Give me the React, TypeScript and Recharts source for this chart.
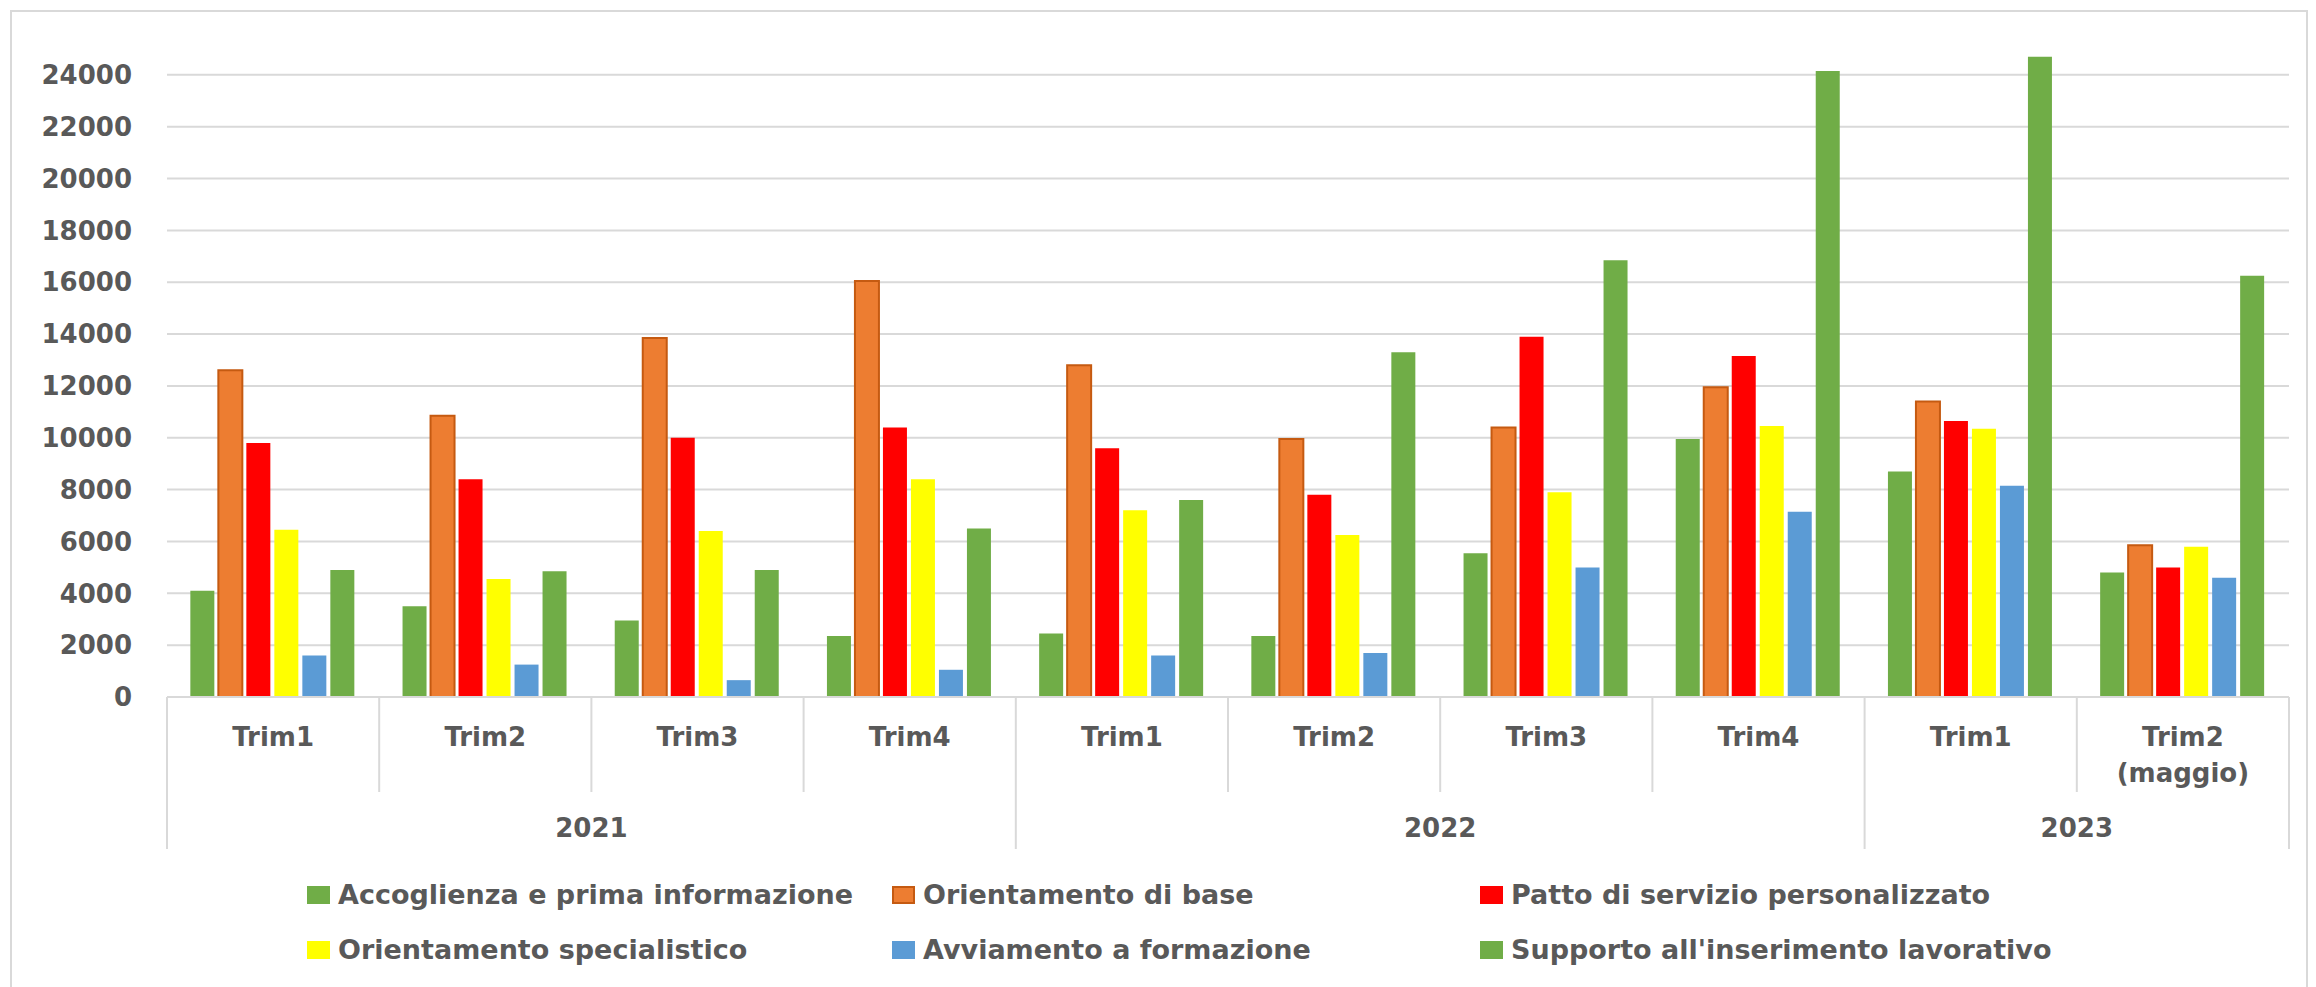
import { Bar, BarChart, CartesianGrid, XAxis, YAxis } from "recharts";

const categories = ["Trim1", "Trim2", "Trim3", "Trim4", "Trim1", "Trim2", "Trim3", "Trim4", "Trim1", "Trim2\n(maggio)"];
const years = ["2021", "2021", "2021", "2021", "2022", "2022", "2022", "2022", "2023", "2023"];

const accoglienza = [4100, 3500, 2950, 2350, 2450, 2350, 5550, 9950, 8700, 4800];
const orientamentoBase = [12600, 10850, 13850, 16050, 12800, 9950, 10400, 11950, 11400, 5850];
const pattoServizio = [9800, 8400, 10000, 10400, 9600, 7800, 13900, 13150, 10650, 5000];
const orientamentoSpec = [6450, 4550, 6400, 8400, 7200, 6250, 7900, 10450, 10350, 5800];
const avviamento = [1600, 1250, 650, 1050, 1600, 1700, 5000, 7150, 8150, 4600];
const supporto = [4900, 4850, 4900, 6500, 7600, 13300, 16850, 24150, 24700, 16250];

const yTicks = [0, 2000, 4000, 6000, 8000, 10000, 12000, 14000, 16000, 18000, 20000, 22000, 24000];

const series = [
  { key: "accoglienza", name: "Accoglienza e prima informazione", color: "#70AD47" },
  { key: "orientamentoBase", name: "Orientamento di base", color: "#ED7D31", stroke: "#C55A11" },
  { key: "pattoServizio", name: "Patto di servizio personalizzato", color: "#FF0000" },
  { key: "orientamentoSpec", name: "Orientamento specialistico", color: "#FFFF00" },
  { key: "avviamento", name: "Avviamento a formazione", color: "#5B9BD5" },
  { key: "supporto", name: "Supporto all'inserimento lavorativo", color: "#70AD47" },
];

const data = categories.map((c, i) => ({
  id: `${years[i]}-${i}`,
  accoglienza: accoglienza[i],
  orientamentoBase: orientamentoBase[i],
  pattoServizio: pattoServizio[i],
  orientamentoSpec: orientamentoSpec[i],
  avviamento: avviamento[i],
  supporto: supporto[i],
}));

const W = 2316;
const H = 987;
const PLOT_LEFT = 167;
const PLOT_RIGHT = 2289;
const PLOT_BOTTOM = 697;
const PLOT_W = PLOT_RIGHT - PLOT_LEFT;
const TEXT = "#595959";
const LINE = "#D9D9D9";
const FONT = "'DejaVu Sans', Verdana, sans-serif";

function CategoryTick(props: any) {
  const { x, payload } = props;
  const i = payload.index;
  const band = PLOT_W / categories.length;
  const left = x - band / 2;
  const lines = categories[i].split("\n");
  const yearStart = i === 0 || years[i] !== years[i - 1];
  const isLast = i === categories.length - 1;
  const yearCount = years.filter((y) => y === years[i]).length;

  return (
    <g>
      <line x1={left} x2={left} y1={PLOT_BOTTOM} y2={yearStart ? 849 : 792} stroke={LINE} strokeWidth={2} />
      {isLast && (
        <line x1={left + band} x2={left + band} y1={PLOT_BOTTOM} y2={849} stroke={LINE} strokeWidth={2} />
      )}
      <text x={x} y={737} textAnchor="middle" fill={TEXT} fontSize={26} fontWeight="bold" fontFamily={FONT}>
        {lines.map((l, k) => (
          <tspan key={k} x={x} dy={k === 0 ? "0.36em" : 36}>
            {l}
          </tspan>
        ))}
      </text>
      {yearStart && (
        <text
          x={left + (yearCount * band) / 2}
          y={828}
          dy="0.36em"
          textAnchor="middle"
          fill={TEXT}
          fontSize={26}
          fontWeight="bold"
          fontFamily={FONT}
        >
          {years[i]}
        </text>
      )}
    </g>
  );
}

export default function App() {
  return (
    <div style={{ position: "absolute", left: 0, top: 0, width: W, height: H, background: "#fff", overflow: "hidden" }}>
      <div
        style={{
          position: "absolute",
          left: 10,
          top: 10,
          width: 2298,
          height: 1000,
          border: `2px solid ${LINE}`,
          boxSizing: "border-box",
        }}
      />
      <div style={{ position: "absolute", left: 0, top: 0 }}>
        <BarChart
          width={W}
          height={H}
          data={data}
          margin={{ top: 23, right: W - PLOT_RIGHT, bottom: 260, left: 17 }}
          barCategoryGap="11%"
          barGap={4}
        >
          <CartesianGrid vertical={false} horizontalValues={yTicks} stroke={LINE} strokeWidth={2} />
          <XAxis
            dataKey="id"
            interval={0}
            height={30}
            tickLine={false}
            axisLine={{ stroke: LINE, strokeWidth: 2 }}
            tick={<CategoryTick />}
          />
          <YAxis
            width={150}
            domain={[0, 26000]}
            ticks={yTicks}
            axisLine={false}
            tickLine={false}
            tickSize={0}
            tickMargin={35}
            tick={{ fill: TEXT, fontSize: 26, fontWeight: "bold", fontFamily: FONT }}
          />
          {series.map((s) => (
            <Bar
              key={s.key}
              dataKey={s.key}
              name={s.name}
              fill={s.color}
              stroke={s.stroke ?? "none"}
              strokeWidth={s.stroke ? 2 : 0}
              isAnimationActive={false}
            />
          ))}
        </BarChart>
      </div>
      <div
        style={{
          position: "absolute",
          left: 307,
          top: 867,
          display: "grid",
          gridTemplateColumns: "585px 588px auto",
          gridAutoRows: "55px",
          fontFamily: FONT,
          fontWeight: "bold",
          fontSize: 27,
          color: TEXT,
        }}
      >
        {series.map((s) => (
          <div key={s.key} style={{ display: "flex", alignItems: "center", whiteSpace: "nowrap" }}>
            <span
              style={{
                display: "inline-block",
                width: 23,
                height: 18,
                background: s.color,
                border: s.stroke ? `2px solid ${s.stroke}` : "none",
                boxSizing: "border-box",
                marginRight: 8,
              }}
            />
            {s.name}
          </div>
        ))}
      </div>
    </div>
  );
}
